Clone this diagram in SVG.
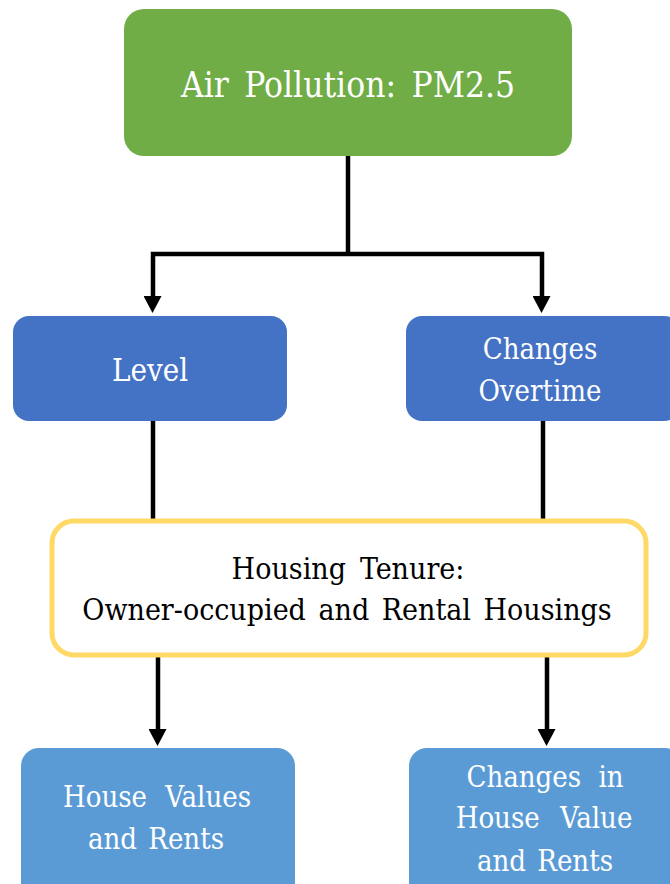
<svg xmlns="http://www.w3.org/2000/svg" width="670" height="884" viewBox="0 0 670 884">
<style>
  text { font-family: 'DejaVu Serif Condensed', 'DejaVu Serif', serif; text-anchor: middle; }
  .w { fill: #ffffff; }
  .k { fill: #000000; }
  .conn { fill: none; stroke: #000000; stroke-width: 4.5; }
</style>
<defs>
  <marker id="arrow" markerUnits="userSpaceOnUse" markerWidth="19" markerHeight="18" refX="0" refY="9" orient="auto" viewBox="0 0 18 19">
    <path d="M0,0 L18,9.5 L0,19 Z" fill="#000000"/>
  </marker>
</defs>
<rect width="670" height="884" fill="#ffffff"/>
<g id="connectors">
  <path class="conn" d="M348,156 V254"/>
  <path class="conn" d="M348,254 H153 V296" marker-end="url(#arrow)"/>
  <path class="conn" d="M348,254 H542 V296" marker-end="url(#arrow)"/>
  <path class="conn" d="M153,421 V521"/>
  <path class="conn" d="M543,421 V521"/>
  <path class="conn" d="M158,656 V729" marker-end="url(#arrow)"/>
  <path class="conn" d="M547,656 V729" marker-end="url(#arrow)"/>
</g>
<g id="node-air-pollution">
  <rect x="124" y="9" width="448" height="147" rx="20" fill="#70AD47"/>
  <text class="w" x="348" y="97" font-size="35" word-spacing="5.5">Air Pollution: PM2.5</text>
</g>
<g id="node-level">
  <rect x="13" y="316" width="274" height="105" rx="16" fill="#4472C4"/>
  <text class="w" x="150" y="381" font-size="31">Level</text>
</g>
<g id="node-changes-overtime">
  <rect x="406" y="316" width="274" height="105" rx="16" fill="#4472C4"/>
  <text class="w" x="540" y="359" font-size="29">Changes</text>
  <text class="w" x="540" y="401" font-size="29">Overtime</text>
</g>
<g id="node-housing-tenure">
  <rect x="52" y="521" width="594" height="134" rx="22" fill="#ffffff" stroke="#FFD966" stroke-width="5"/>
  <text class="k" x="348" y="579" font-size="30" word-spacing="5.5">Housing Tenure:</text>
  <text class="k" x="347" y="620" font-size="30" word-spacing="4">Owner-occupied and Rental Housings</text>
</g>
<g id="node-house-values">
  <rect x="21" y="748" width="274" height="160" rx="18" fill="#5B9BD5"/>
  <text class="w" x="157" y="807" font-size="29" word-spacing="10">House Values</text>
  <text class="w" x="156" y="849" font-size="29" word-spacing="3">and Rents</text>
</g>
<g id="node-changes-house-value">
  <rect x="409" y="748" width="274" height="160" rx="18" fill="#5B9BD5"/>
  <text class="w" x="545" y="787" font-size="29" word-spacing="9">Changes in</text>
  <text class="w" x="544" y="828" font-size="29" word-spacing="12">House Value</text>
  <text class="w" x="545" y="871" font-size="29" word-spacing="3">and Rents</text>
</g>
</svg>
